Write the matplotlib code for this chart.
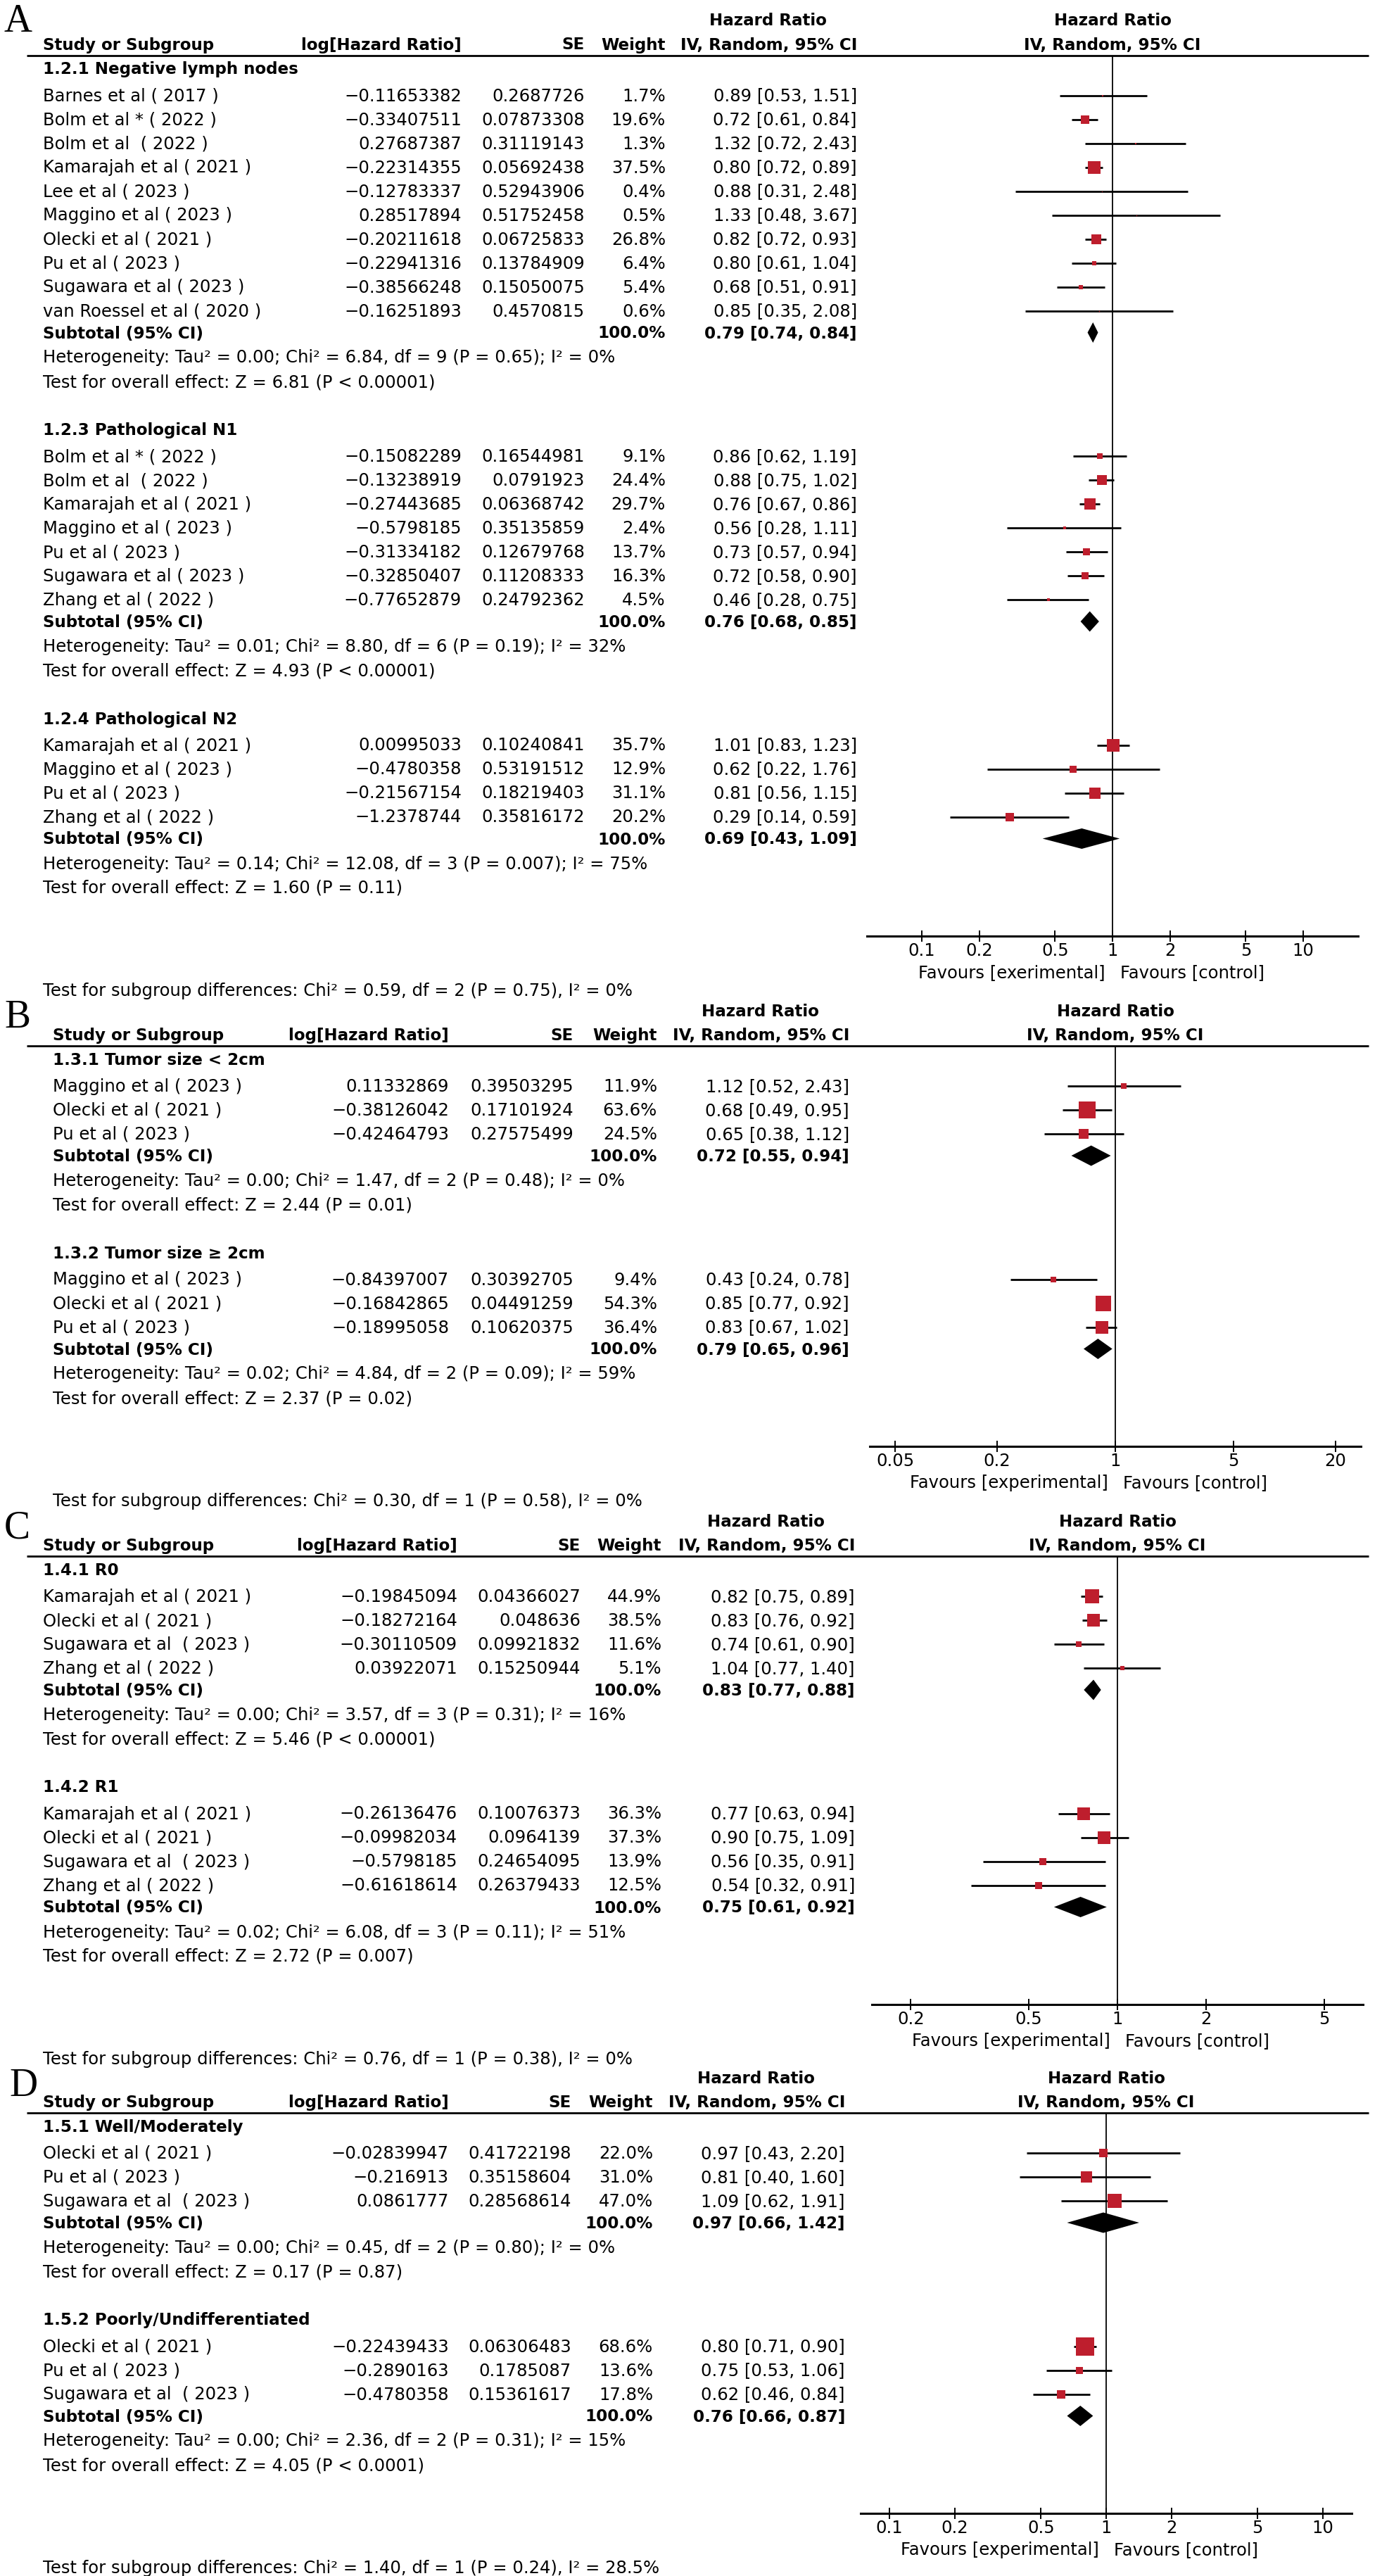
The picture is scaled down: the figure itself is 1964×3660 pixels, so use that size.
import matplotlib
matplotlib.use("Agg")
import numpy as np
from matplotlib import pyplot as plt
from matplotlib.ticker import NullLocator

plt.rcParams["font.family"] = ["DejaVu Sans"]

W, H = 1965, 3660
FS = 17.5      # regular text
FSB = 16.6     # bold text
RED = "#BE1E2D"
M = "\u2212"

# ---------------- panel A: lymph node status ----------------
a_titles = ["1.2.1 Negative lymph nodes", "1.2.3 Pathological N1", "1.2.4 Pathological N2"]
a_studies = [
    ["Barnes et al ( 2017 )", "Bolm et al * ( 2022 )", "Bolm et al  ( 2022 )", "Kamarajah et al ( 2021 )",
     "Lee et al ( 2023 )", "Maggino et al ( 2023 )", "Olecki et al ( 2021 )", "Pu et al ( 2023 )",
     "Sugawara et al ( 2023 )", "van Roessel et al ( 2020 )"],
    ["Bolm et al * ( 2022 )", "Bolm et al  ( 2022 )", "Kamarajah et al ( 2021 )", "Maggino et al ( 2023 )",
     "Pu et al ( 2023 )", "Sugawara et al ( 2023 )", "Zhang et al ( 2022 )"],
    ["Kamarajah et al ( 2021 )", "Maggino et al ( 2023 )", "Pu et al ( 2023 )", "Zhang et al ( 2022 )"],
]
a_loghr = [
    [M + "0.11653382", M + "0.33407511", "0.27687387", M + "0.22314355", M + "0.12783337",
     "0.28517894", M + "0.20211618", M + "0.22941316", M + "0.38566248", M + "0.16251893"],
    [M + "0.15082289", M + "0.13238919", M + "0.27443685", M + "0.5798185", M + "0.31334182",
     M + "0.32850407", M + "0.77652879"],
    ["0.00995033", M + "0.4780358", M + "0.21567154", M + "1.2378744"],
]
a_se = [
    ["0.2687726", "0.07873308", "0.31119143", "0.05692438", "0.52943906", "0.51752458",
     "0.06725833", "0.13784909", "0.15050075", "0.4570815"],
    ["0.16544981", "0.0791923", "0.06368742", "0.35135859", "0.12679768", "0.11208333", "0.24792362"],
    ["0.10240841", "0.53191512", "0.18219403", "0.35816172"],
]
a_weight = [[1.7, 19.6, 1.3, 37.5, 0.4, 0.5, 26.8, 6.4, 5.4, 0.6],
            [9.1, 24.4, 29.7, 2.4, 13.7, 16.3, 4.5],
            [35.7, 12.9, 31.1, 20.2]]
a_hr = [[0.89, 0.72, 1.32, 0.80, 0.88, 1.33, 0.82, 0.80, 0.68, 0.85],
        [0.86, 0.88, 0.76, 0.56, 0.73, 0.72, 0.46],
        [1.01, 0.62, 0.81, 0.29]]
a_lo = [[0.53, 0.61, 0.72, 0.72, 0.31, 0.48, 0.72, 0.61, 0.51, 0.35],
        [0.62, 0.75, 0.67, 0.28, 0.57, 0.58, 0.28],
        [0.83, 0.22, 0.56, 0.14]]
a_hi = [[1.51, 0.84, 2.43, 0.89, 2.48, 3.67, 0.93, 1.04, 0.91, 2.08],
        [1.19, 1.02, 0.86, 1.11, 0.94, 0.90, 0.75],
        [1.23, 1.76, 1.15, 0.59]]
a_sub_hr = [0.79, 0.76, 0.69]
a_sub_lo = [0.74, 0.68, 0.43]
a_sub_hi = [0.84, 0.85, 1.09]
a_het = ["Heterogeneity: Tau² = 0.00; Chi² = 6.84, df = 9 (P = 0.65); I² = 0%",
         "Heterogeneity: Tau² = 0.01; Chi² = 8.80, df = 6 (P = 0.19); I² = 32%",
         "Heterogeneity: Tau² = 0.14; Chi² = 12.08, df = 3 (P = 0.007); I² = 75%"]
a_overall = ["Test for overall effect: Z = 6.81 (P < 0.00001)",
             "Test for overall effect: Z = 4.93 (P < 0.00001)",
             "Test for overall effect: Z = 1.60 (P = 0.11)"]
a_diff = "Test for subgroup differences: Chi² = 0.59, df = 2 (P = 0.75), I² = 0%"
a_ticks = [0.1, 0.2, 0.5, 1, 2, 5, 10]
a_ticklabels = ["0.1", "0.2", "0.5", "1", "2", "5", "10"]

# ---------------- panel B: tumour size ----------------
b_titles = ["1.3.1 Tumor size < 2cm", "1.3.2 Tumor size ≥ 2cm"]
b_studies = [["Maggino et al ( 2023 )", "Olecki et al ( 2021 )", "Pu et al ( 2023 )"],
             ["Maggino et al ( 2023 )", "Olecki et al ( 2021 )", "Pu et al ( 2023 )"]]
b_loghr = [["0.11332869", M + "0.38126042", M + "0.42464793"],
           [M + "0.84397007", M + "0.16842865", M + "0.18995058"]]
b_se = [["0.39503295", "0.17101924", "0.27575499"],
        ["0.30392705", "0.04491259", "0.10620375"]]
b_weight = [[11.9, 63.6, 24.5], [9.4, 54.3, 36.4]]
b_hr = [[1.12, 0.68, 0.65], [0.43, 0.85, 0.83]]
b_lo = [[0.52, 0.49, 0.38], [0.24, 0.77, 0.67]]
b_hi = [[2.43, 0.95, 1.12], [0.78, 0.92, 1.02]]
b_sub_hr = [0.72, 0.79]
b_sub_lo = [0.55, 0.65]
b_sub_hi = [0.94, 0.96]
b_het = ["Heterogeneity: Tau² = 0.00; Chi² = 1.47, df = 2 (P = 0.48); I² = 0%",
         "Heterogeneity: Tau² = 0.02; Chi² = 4.84, df = 2 (P = 0.09); I² = 59%"]
b_overall = ["Test for overall effect: Z = 2.44 (P = 0.01)",
             "Test for overall effect: Z = 2.37 (P = 0.02)"]
b_diff = "Test for subgroup differences: Chi² = 0.30, df = 1 (P = 0.58), I² = 0%"
b_ticks = [0.05, 0.2, 1, 5, 20]
b_ticklabels = ["0.05", "0.2", "1", "5", "20"]

# ---------------- panel C: resection margin ----------------
c_titles = ["1.4.1 R0", "1.4.2 R1"]
c_studies = [["Kamarajah et al ( 2021 )", "Olecki et al ( 2021 )", "Sugawara et al  ( 2023 )", "Zhang et al ( 2022 )"],
             ["Kamarajah et al ( 2021 )", "Olecki et al ( 2021 )", "Sugawara et al  ( 2023 )", "Zhang et al ( 2022 )"]]
c_loghr = [[M + "0.19845094", M + "0.18272164", M + "0.30110509", "0.03922071"],
           [M + "0.26136476", M + "0.09982034", M + "0.5798185", M + "0.61618614"]]
c_se = [["0.04366027", "0.048636", "0.09921832", "0.15250944"],
        ["0.10076373", "0.0964139", "0.24654095", "0.26379433"]]
c_weight = [[44.9, 38.5, 11.6, 5.1], [36.3, 37.3, 13.9, 12.5]]
c_hr = [[0.82, 0.83, 0.74, 1.04], [0.77, 0.90, 0.56, 0.54]]
c_lo = [[0.75, 0.76, 0.61, 0.77], [0.63, 0.75, 0.35, 0.32]]
c_hi = [[0.89, 0.92, 0.90, 1.40], [0.94, 1.09, 0.91, 0.91]]
c_sub_hr = [0.83, 0.75]
c_sub_lo = [0.77, 0.61]
c_sub_hi = [0.88, 0.92]
c_het = ["Heterogeneity: Tau² = 0.00; Chi² = 3.57, df = 3 (P = 0.31); I² = 16%",
         "Heterogeneity: Tau² = 0.02; Chi² = 6.08, df = 3 (P = 0.11); I² = 51%"]
c_overall = ["Test for overall effect: Z = 5.46 (P < 0.00001)",
             "Test for overall effect: Z = 2.72 (P = 0.007)"]
c_diff = "Test for subgroup differences: Chi² = 0.76, df = 1 (P = 0.38), I² = 0%"
c_ticks = [0.2, 0.5, 1, 2, 5]
c_ticklabels = ["0.2", "0.5", "1", "2", "5"]

# ---------------- panel D: differentiation ----------------
d_titles = ["1.5.1 Well/Moderately", "1.5.2 Poorly/Undifferentiated"]
d_studies = [["Olecki et al ( 2021 )", "Pu et al ( 2023 )", "Sugawara et al  ( 2023 )"],
             ["Olecki et al ( 2021 )", "Pu et al ( 2023 )", "Sugawara et al  ( 2023 )"]]
d_loghr = [[M + "0.02839947", M + "0.216913", "0.0861777"],
           [M + "0.22439433", M + "0.2890163", M + "0.4780358"]]
d_se = [["0.41722198", "0.35158604", "0.28568614"],
        ["0.06306483", "0.1785087", "0.15361617"]]
d_weight = [[22.0, 31.0, 47.0], [68.6, 13.6, 17.8]]
d_hr = [[0.97, 0.81, 1.09], [0.80, 0.75, 0.62]]
d_lo = [[0.43, 0.40, 0.62], [0.71, 0.53, 0.46]]
d_hi = [[2.20, 1.60, 1.91], [0.90, 1.06, 0.84]]
d_sub_hr = [0.97, 0.76]
d_sub_lo = [0.66, 0.66]
d_sub_hi = [1.42, 0.87]
d_het = ["Heterogeneity: Tau² = 0.00; Chi² = 0.45, df = 2 (P = 0.80); I² = 0%",
         "Heterogeneity: Tau² = 0.00; Chi² = 2.36, df = 2 (P = 0.31); I² = 15%"]
d_overall = ["Test for overall effect: Z = 0.17 (P = 0.87)",
             "Test for overall effect: Z = 4.05 (P < 0.0001)"]
d_diff = "Test for subgroup differences: Chi² = 1.40, df = 1 (P = 0.24), I² = 28.5%"
d_ticks = [0.1, 0.2, 0.5, 1, 2, 5, 10]
d_ticklabels = ["0.1", "0.2", "0.5", "1", "2", "5", "10"]

# ---------------- layout of each panel (pixels) ----------------
layouts = [
    dict(tag="A", tag_x=6, tag_y=45, line_y=78.5, name_x=61, loghr_x=656, se_x=831, w_x=946, est_x=1218,
         zero_x=1581, ppd=271, fav="Favours [exerimental]"),
    dict(tag="B", tag_x=6, tag_y=1460, line_y=1486, name_x=75, loghr_x=638, se_x=815, w_x=934, est_x=1207,
         zero_x=1585, ppd=240.6, fav="Favours [experimental]"),
    dict(tag="C", tag_x=6, tag_y=2186, line_y=2211, name_x=61, loghr_x=650, se_x=825, w_x=940, est_x=1215,
         zero_x=1588, ppd=420, fav="Favours [experimental]"),
    dict(tag="D", tag_x=13, tag_y=2978, line_y=3002, name_x=61, loghr_x=638, se_x=812, w_x=928, est_x=1201,
         zero_x=1572, ppd=308, fav="Favours [experimental]"),
]
panel_data = [
    (a_titles, a_studies, a_loghr, a_se, a_weight, a_hr, a_lo, a_hi, a_sub_hr, a_sub_lo, a_sub_hi,
     a_het, a_overall, a_diff, a_ticks, a_ticklabels),
    (b_titles, b_studies, b_loghr, b_se, b_weight, b_hr, b_lo, b_hi, b_sub_hr, b_sub_lo, b_sub_hi,
     b_het, b_overall, b_diff, b_ticks, b_ticklabels),
    (c_titles, c_studies, c_loghr, c_se, c_weight, c_hr, c_lo, c_hi, c_sub_hr, c_sub_lo, c_sub_hi,
     c_het, c_overall, c_diff, c_ticks, c_ticklabels),
    (d_titles, d_studies, d_loghr, d_se, d_weight, d_hr, d_lo, d_hi, d_sub_hr, d_sub_lo, d_sub_hi,
     d_het, d_overall, d_diff, d_ticks, d_ticklabels),
]

HALF = 349     # half width of the forest area
BASE = 8       # cap-centre to baseline

fig = plt.figure(figsize=(W / 100, H / 100), dpi=100)
bg = fig.add_axes([0, 0, 1, 1])
bg.set_xlim(0, W)
bg.set_ylim(H, 0)
bg.axis("off")


def txt(x, y, s, ha="left", bold=False, size=None):
    bg.text(x, y + BASE, s, ha=ha, va="baseline",
            fontsize=size or (FSB if bold else FS), fontweight="bold" if bold else "normal")


for lay, data in zip(layouts, panel_data):
    (titles, studies, loghr, se, weight, hr, lo, hi, sub_hr, sub_lo, sub_hi,
     het, overall, diff, ticks, ticklabels) = data
    ly = lay["line_y"]
    zx = lay["zero_x"]
    col_c = lay["est_x"] - 127

    # panel letter and headers
    bg.text(lay["tag_x"], lay["tag_y"], lay["tag"], fontsize=40, family="Liberation Serif", va="baseline")
    txt(col_c, ly - 50, "Hazard Ratio", ha="center", bold=True)
    txt(zx, ly - 50, "Hazard Ratio", ha="center", bold=True)
    txt(lay["name_x"], ly - 16, "Study or Subgroup", bold=True)
    txt(lay["loghr_x"], ly - 16, "log[Hazard Ratio]", ha="right", bold=True)
    txt(lay["se_x"], ly - 16, "SE", ha="right", bold=True)
    txt(lay["w_x"], ly - 16, "Weight", ha="right", bold=True)
    txt(lay["est_x"], ly - 16, "IV, Random, 95% CI", ha="right", bold=True)
    txt(zx, ly - 16, "IV, Random, 95% CI", ha="center", bold=True)
    bg.plot([38, 1945], [ly, ly], color="black", lw=2.0, solid_capstyle="butt")

    # row positions
    groups = []
    y = ly + 19
    for g in range(len(titles)):
        rows = [y + 38 + 34 * i for i in range(len(studies[g]))]
        sub = rows[-1] + 31
        groups.append((y, rows, sub, sub + 35, sub + 69.5))
        y = sub + 69.5 + 68
    axis_y = groups[-1][4] + 69

    ax = fig.add_axes([(zx - HALF) / W, 1 - axis_y / H, 2 * HALF / W, (axis_y - ly) / H])
    ax.set_facecolor("none")
    ax.set_xscale("log")
    ax.set_xlim(10 ** (-HALF / lay["ppd"]), 10 ** (HALF / lay["ppd"]))
    ax.set_ylim(axis_y, ly)
    for s in ["top", "left", "right"]:
        ax.spines[s].set_visible(False)
    ax.spines["bottom"].set_linewidth(2.2)
    ax.set_yticks([])
    ax.set_xticks(ticks)
    ax.set_xticklabels(ticklabels)
    ax.xaxis.set_minor_locator(NullLocator())
    ax.tick_params(axis="x", direction="inout", length=11.5, width=1.4, labelsize=FS, pad=1)
    ax.axvline(1, color="black", lw=1.3, zorder=1)

    for g, (ty, rows, sub, hy, oy) in enumerate(groups):
        txt(lay["name_x"], ty, titles[g], bold=True)
        for i, yy in enumerate(rows):
            txt(lay["name_x"], yy, studies[g][i])
            txt(lay["loghr_x"], yy, loghr[g][i], ha="right")
            txt(lay["se_x"], yy, se[g][i], ha="right")
            txt(lay["w_x"], yy, f"{weight[g][i]:.1f}%", ha="right")
            txt(lay["est_x"], yy, f"{hr[g][i]:.2f} [{lo[g][i]:.2f}, {hi[g][i]:.2f}]", ha="right")
        ax.hlines(rows, lo[g], hi[g], color="black", lw=2.0, zorder=2)
        for i, yy in enumerate(rows):
            size_px = 2.0 * weight[g][i] ** 0.6
            ax.plot(hr[g][i], yy, marker="s", ms=size_px * 0.72, color=RED, mec=RED, mew=0, ls="none", zorder=3)
        txt(lay["name_x"], sub, "Subtotal (95% CI)", bold=True)
        txt(lay["w_x"], sub, "100.0%", ha="right", bold=True)
        txt(lay["est_x"], sub, f"{sub_hr[g]:.2f} [{sub_lo[g]:.2f}, {sub_hi[g]:.2f}]", ha="right", bold=True)
        ax.fill([sub_lo[g], sub_hr[g], sub_hi[g], sub_hr[g]], [sub, sub - 14.5, sub, sub + 14.5],
                color="black", lw=0, zorder=3)
        txt(lay["name_x"], hy, het[g])
        txt(lay["name_x"], oy, overall[g])

    txt(zx - 10, axis_y + 51, lay["fav"], ha="right")
    txt(zx + 11, axis_y + 51, "Favours [control]")
    txt(lay["name_x"], axis_y + 77, diff)

fig.savefig("out.png", dpi=100)
